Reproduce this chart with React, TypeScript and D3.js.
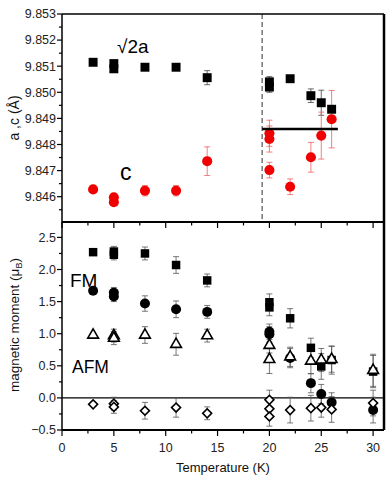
import React from "react";
import * as d3 from "d3";

// lattice parameters (top panel)
const aTemp = [3, 5, 5, 8, 11, 14, 20, 20, 22, 24, 25, 26];
const aVal = [9.85115, 9.8511, 9.8509, 9.85096, 9.85096, 9.85056, 9.8504, 9.8502, 9.85052, 9.84987, 9.8496, 9.84935];
const aErr = [0.00004, 0.0001, 0.0001, 0.00004, 0.00004, 0.00027, 0.0002, 0.0002, 0.00004, 0.00026, 0.00048, 0.0001];

const cTemp = [3, 5, 5, 8, 11, 14, 20, 20, 20, 22, 24, 25, 26];
const cVal = [9.84628, 9.84598, 9.84579, 9.84623, 9.84623, 9.84736, 9.84843, 9.84821, 9.84702, 9.84638, 9.84751, 9.84834, 9.84897];
const cErr = [0.00005, 0.0001, 0.0001, 0.0002, 0.0002, 0.00055, 0.0005, 0.0005, 0.0003, 0.0003, 0.00057, 0.0009, 0.0011];

// magnetic moments (bottom panel)
const fmSqTemp = [3, 5, 5, 8, 11, 14, 20, 20, 22, 24, 25, 26, 30];
const fmSqVal = [2.27, 2.28, 2.23, 2.25, 2.07, 1.83, 1.49, 1.41, 1.24, 0.78, 0.49, 0.59, 0.41];
const fmSqErr = [0.03, 0.08, 0.08, 0.1, 0.13, 0.1, 0.13, 0.13, 0.15, 0.15, 0.2, 0.22, 0.25];

const fmCirTemp = [3, 5, 5, 8, 11, 14, 20, 20, 22, 24, 25, 26, 30];
const fmCirVal = [1.67, 1.64, 1.58, 1.47, 1.38, 1.34, 1.03, 0.99, 0.62, 0.23, 0.06, -0.07, -0.19];
const fmCirErr = [0.03, 0.08, 0.08, 0.12, 0.13, 0.1, 0.12, 0.12, 0.15, 0.15, 0.15, 0.15, 0.2];

const afmTriTemp = [3, 5, 5, 8, 11, 14, 20, 20, 22, 24, 25, 26, 30];
const afmTriVal = [0.98, 0.97, 0.93, 0.98, 0.835, 0.97, 0.82, 0.6, 0.64, 0.575, 0.59, 0.6, 0.43];
const afmTriErr = [0.03, 0.1, 0.1, 0.13, 0.17, 0.1, 0.12, 0.22, 0.15, 0.2, 0.18, 0.2, 0.25];

const afmDiaTemp = [3, 5, 5, 8, 11, 14, 20, 20, 20, 22, 24, 25, 26, 30];
const afmDiaVal = [-0.1, -0.09, -0.14, -0.2, -0.15, -0.24, -0.03, -0.17, -0.29, -0.19, -0.16, -0.15, -0.18, -0.08];
const afmDiaErr = [0.03, 0.1, 0.1, 0.13, 0.15, 0.1, 0.15, 0.15, 0.15, 0.2, 0.2, 0.15, 0.2, 0.2];

const xTicks = [0, 5, 10, 15, 20, 25, 30];
const topTicks = [9.846, 9.847, 9.848, 9.849, 9.85, 9.851, 9.852, 9.853];
const botTicks = [-0.5, 0, 0.5, 1, 1.5, 2, 2.5];

const transition = 19.3; // dashed line
const avgLine = { from: 19.3, to: 26.6, value: 9.84859 };

const W = 389, H = 478;
const left = 62, right = 384, top = 14, mid = 222, bottom = 430;
const font = "'Liberation Sans', Arial, sans-serif";

const x = d3.scaleLinear().domain([0, 31.05]).range([left, right]);
const yTop = d3.scaleLinear().domain([9.84503, 9.853]).range([mid, top]);
const yBot = d3.scaleLinear().domain([-0.5, 2.74]).range([bottom, mid]);

function ErrBars({ t, v, e, y, color, w = 0.8 }: any) {
  return (
    <g stroke={color} strokeWidth={w} fill="none">
      {t.map((d: number, i: number) => {
        const cx = x(d), y1 = y(v[i] + e[i]), y2 = y(v[i] - e[i]);
        return (
          <g key={i}>
            <line x1={cx} x2={cx} y1={y1} y2={y2} />
            <line x1={cx - 3} x2={cx + 3} y1={y1} y2={y1} />
            <line x1={cx - 3} x2={cx + 3} y1={y2} y2={y2} />
          </g>
        );
      })}
    </g>
  );
}

function Marks({ t, v, y, shape, size, fill, stroke, rotate = 0 }: any) {
  const sym = d3.symbol().type(shape).size(size);
  return (
    <g fill={fill} stroke={stroke} strokeWidth={stroke === "none" ? 0 : 1.6}>
      {t.map((d: number, i: number) => (
        <path key={i} d={sym() as string} transform={`translate(${x(d)},${y(v[i])}) rotate(${rotate})`} />
      ))}
    </g>
  );
}

export default function App() {
  const minorX = d3.range(2.5, 31, 5);
  const minorTop = d3.range(9.8455, 9.853, 0.001);
  const minorBot = d3.range(-0.25, 2.74, 0.5);
  return (
    <svg width={W} height={H} style={{ position: "absolute", left: 0, top: 0, background: "#fff" }} fontFamily={font}>
      <rect width={W} height={H} fill="#fff" />

      {/* top panel data */}
      <line x1={x(transition)} x2={x(transition)} y1={top} y2={mid} stroke="#555" strokeWidth={1.2} strokeDasharray="5,3" />
      <ErrBars t={aTemp} v={aVal} e={aErr} y={yTop} color="#444" />
      <ErrBars t={cTemp} v={cVal} e={cErr} y={yTop} color="#f06060" />
      <Marks t={aTemp} v={aVal} y={yTop} shape={d3.symbolSquare} size={80} fill="#000" stroke="none" />
      <Marks t={cTemp} v={cVal} y={yTop} shape={d3.symbolCircle} size={80} fill="#f00000" stroke="none" />
      <line x1={x(avgLine.from)} x2={x(avgLine.to)} y1={yTop(avgLine.value)} y2={yTop(avgLine.value)} stroke="#000" strokeWidth={2.5} />
      <text x={117} y={53} fontSize={19}>√2a</text>
      <text x={120} y={180} fontSize={23}>c</text>

      {/* bottom panel data */}
      <line x1={left} x2={right} y1={yBot(0)} y2={yBot(0)} stroke="#000" strokeWidth={1.2} />
      <ErrBars t={fmSqTemp} v={fmSqVal} e={fmSqErr} y={yBot} color="#555" />
      <ErrBars t={fmCirTemp} v={fmCirVal} e={fmCirErr} y={yBot} color="#555" />
      <ErrBars t={afmTriTemp} v={afmTriVal} e={afmTriErr} y={yBot} color="#555" />
      <ErrBars t={afmDiaTemp} v={afmDiaVal} e={afmDiaErr} y={yBot} color="#555" />
      <Marks t={fmSqTemp} v={fmSqVal} y={yBot} shape={d3.symbolSquare} size={72} fill="#000" stroke="none" />
      <Marks t={fmCirTemp} v={fmCirVal} y={yBot} shape={d3.symbolCircle} size={78} fill="#000" stroke="none" />
      <Marks t={afmTriTemp} v={afmTriVal} y={yBot} shape={d3.symbolTriangle} size={50} fill="#fff" stroke="#000" />
      <Marks t={afmDiaTemp} v={afmDiaVal} y={yBot} shape={d3.symbolSquare} size={40} fill="#fff" stroke="#000" rotate={45} />
      <text x={70} y={287} fontSize={19}>FM</text>
      <text x={72} y={373} fontSize={17.5}>AFM</text>

      {/* frames */}
      <g stroke="#000" fill="none">
        <line x1={left} x2={right} y1={top} y2={top} strokeWidth={1.5} />
        <line x1={left} x2={left} y1={top} y2={bottom} strokeWidth={1.5} />
        <line x1={right} x2={right} y1={top} y2={bottom} strokeWidth={2.5} />
        <line x1={left} x2={right} y1={mid} y2={mid} strokeWidth={1.8} />
        <line x1={left} x2={right} y1={bottom} y2={bottom} strokeWidth={1.8} />
        {xTicks.map((t) => (
          <g key={t}>
            <line x1={x(t)} x2={x(t)} y1={mid} y2={mid + 6} strokeWidth={1.2} />
            <line x1={x(t)} x2={x(t)} y1={bottom} y2={bottom + 6} strokeWidth={1.2} />
          </g>
        ))}
        {minorX.map((t) => (
          <g key={t}>
            <line x1={x(t)} x2={x(t)} y1={mid} y2={mid + 3.5} strokeWidth={1.2} />
            <line x1={x(t)} x2={x(t)} y1={bottom} y2={bottom + 3.5} strokeWidth={1.2} />
          </g>
        ))}
        {topTicks.map((t) => (
          <line key={t} x1={left - 5} x2={left} y1={yTop(t)} y2={yTop(t)} strokeWidth={1.2} />
        ))}
        {minorTop.map((t) => (
          <line key={t} x1={left - 3} x2={left} y1={yTop(t)} y2={yTop(t)} strokeWidth={1.2} />
        ))}
        {botTicks.map((t) => (
          <line key={t} x1={left - 5} x2={left} y1={yBot(t)} y2={yBot(t)} strokeWidth={1.2} />
        ))}
        {minorBot.map((t) => (
          <line key={t} x1={left - 3} x2={left} y1={yBot(t)} y2={yBot(t)} strokeWidth={1.2} />
        ))}
      </g>

      {/* tick labels */}
      <g fontSize={12.5} fill="#222">
        {topTicks.map((t) => (
          <text key={t} x={left - 6} y={yTop(t)} dy="0.35em" textAnchor="end">{d3.format(".3f")(t)}</text>
        ))}
        {botTicks.map((t) => (
          <text key={t} x={left - 6} y={yBot(t)} dy="0.35em" textAnchor="end">{d3.format(".1f")(t)}</text>
        ))}
        {xTicks.map((t) => (
          <text key={t} x={x(t)} y={452} textAnchor="middle">{t}</text>
        ))}
      </g>

      {/* axis titles */}
      <text x={223} y={472} fontSize={13} textAnchor="middle" fill="#111">Temperature (K)</text>
      <text transform="translate(19,118) rotate(-90)" fontSize={14} textAnchor="middle" fill="#111">a ,c (Å)</text>
      <text transform="translate(19,325) rotate(-90)" fontSize={13.5} textAnchor="middle" fill="#111">
        magnetic moment (μ<tspan fontSize={9} dy={3}>B</tspan><tspan dy={-3}>)</tspan>
      </text>
    </svg>
  );
}
